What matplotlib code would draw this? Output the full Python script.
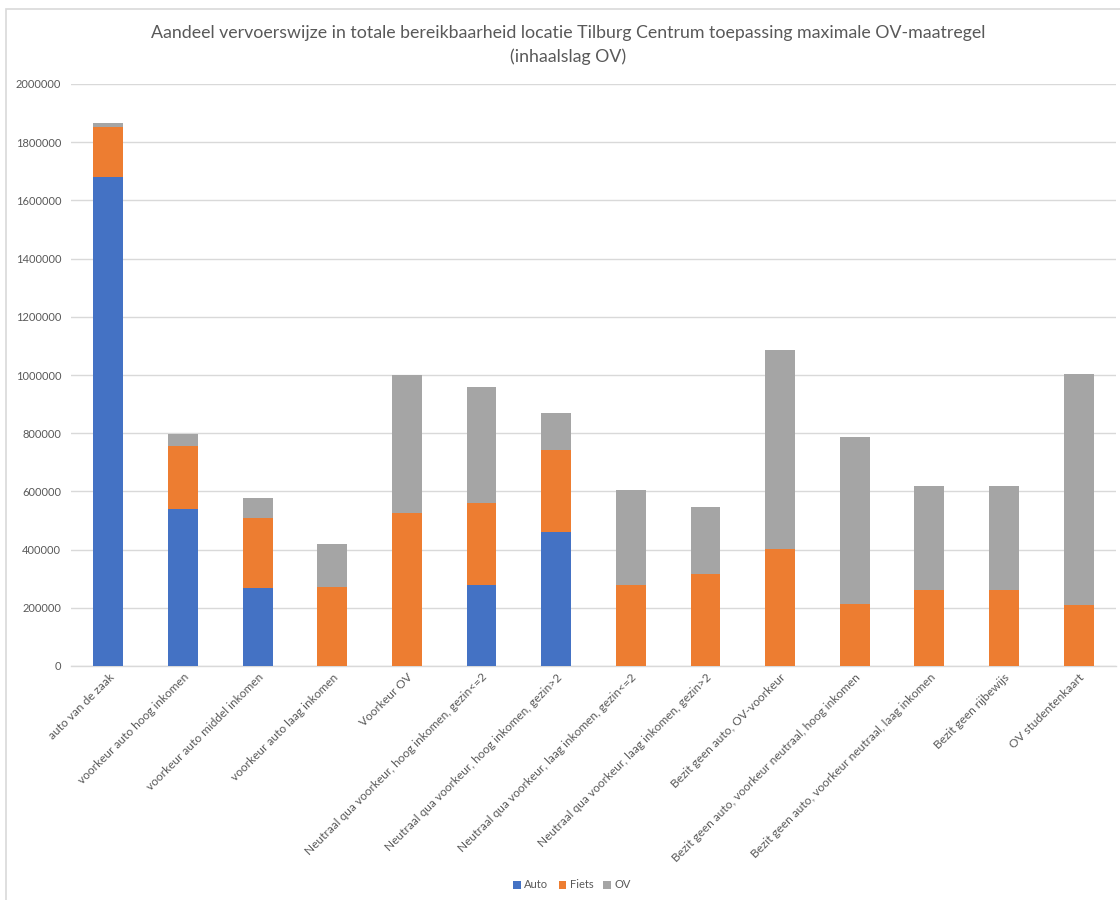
import matplotlib
matplotlib.use("Agg")
import matplotlib.pyplot as plt
import numpy as np
from matplotlib.patches import Rectangle

plt.rcParams['font.family'] = ['Lato', 'DejaVu Sans']

categories = [
    "auto van de zaak",
    "voorkeur auto hoog inkomen",
    "voorkeur auto middel inkomen",
    "voorkeur auto laag inkomen",
    "Voorkeur OV",
    "Neutraal qua voorkeur, hoog inkomen, gezin<=2",
    "Neutraal qua voorkeur, hoog inkomen, gezin>2",
    "Neutraal qua voorkeur, laag inkomen, gezin<=2",
    "Neutraal qua voorkeur, laag inkomen, gezin>2",
    "Bezit geen auto, OV-voorkeur",
    "Bezit geen auto, voorkeur neutraal, hoog inkomen",
    "Bezit geen auto, voorkeur neutraal, laag inkomen",
    "Bezit geen rijbewijs",
    "OV studentenkaart",
]

auto = [1680000, 540000, 268000, 0, 0, 278000, 460000, 0, 0, 0, 0, 0, 0, 0]
fiets = [172000, 216000, 241000, 271000, 526000, 282000, 282000, 277000, 317000, 402000, 213000, 261000, 261000, 210000]
ov = [14000, 41000, 68000, 148000, 474000, 399000, 127000, 328000, 230000, 685000, 573000, 359000, 359000, 794000]

series_names = ["Auto", "Fiets", "OV"]
colors = ["#4472C4", "#ED7D31", "#A5A5A5"]
yticks = [0, 200000, 400000, 600000, 800000, 1000000, 1200000, 1400000, 1600000, 1800000, 2000000]

fig = plt.figure(figsize=(11.2, 9), dpi=100)
W, H = 1120, 900
ax = fig.add_axes([71 / W, 1 - 666 / H, (1116 - 71) / W, (666 - 84) / H])

x = np.arange(len(categories))
a = np.array(auto)
f = np.array(fiets)
o = np.array(ov)
ax.bar(x, a, width=0.4, color=colors[0], label=series_names[0], zorder=3)
ax.bar(x, f, width=0.4, bottom=a, color=colors[1], label=series_names[1], zorder=3)
ax.bar(x, o, width=0.4, bottom=a + f, color=colors[2], label=series_names[2], zorder=3)

ax.set_xlim(-0.5, len(categories) - 0.5)
ax.set_ylim(0, 2000000)
ax.set_yticks(yticks)
ax.set_yticklabels([str(v) for v in yticks])
ax.yaxis.grid(True, color="#D9D9D9", linewidth=1.0, zorder=0)
for s in ["top", "right", "left"]:
    ax.spines[s].set_visible(False)
ax.spines["bottom"].set_color("#D9D9D9")
ax.spines["bottom"].set_linewidth(1.0)
ax.tick_params(axis="y", length=0, pad=7, labelsize=8, labelcolor="#595959")
ax.tick_params(axis="x", length=0, pad=4, labelsize=8.6, labelcolor="#595959")
ax.set_xticks(x)
ax.set_xticklabels(categories, rotation=45, ha="right", rotation_mode="anchor")

fig.text(568 / W, 1 - 33 / H, "Aandeel vervoerswijze in totale bereikbaarheid locatie Tilburg Centrum toepassing maximale OV-maatregel",
         ha="center", va="center", fontsize=12.8, color="#595959")
fig.text(568 / W, 1 - 57 / H, "(inhaalslag OV)", ha="center", va="center", fontsize=12.8, color="#595959")

leg = fig.legend(loc="center", bbox_to_anchor=(572 / W, 1 - 885 / H), ncol=3, frameon=False,
                 fontsize=8, handlelength=0.7, handleheight=0.7, handletextpad=0.3, columnspacing=0.9,
                 labelcolor="#595959")

# chart frame
fig.patches.append(Rectangle((6 / W, -0.01), 1.02, 1 - 9 / H + 0.01, transform=fig.transFigure,
                             fill=False, edgecolor="#D9D9D9", linewidth=1.2))

fig.savefig("out.png", dpi=100, facecolor="white")
